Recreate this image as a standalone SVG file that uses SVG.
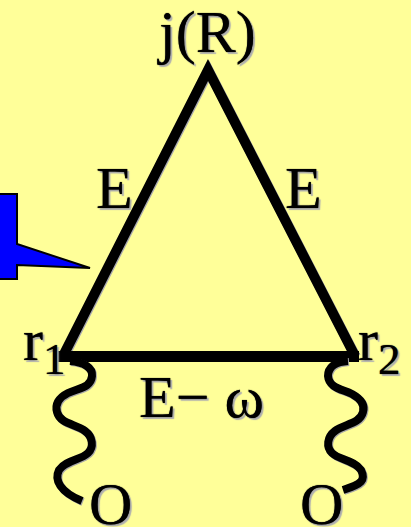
<svg xmlns="http://www.w3.org/2000/svg" width="411" height="527" viewBox="0 0 411 527">
<style>
text{font-family:"Liberation Serif","Times New Roman",serif;font-size:60px;fill:#000;text-shadow:0 0 1px #000,2px 2px 1px #b0b0b0}
.sub{font-size:45px}
.edge{fill:none;stroke:#000;stroke-width:10;stroke-linejoin:miter;stroke-miterlimit:8;filter:drop-shadow(1px 1px 0.5px #a8a8b0)}
.wave{fill:none;stroke:#000;stroke-width:8;filter:drop-shadow(1.5px 1.5px 0.5px #a8a8a8)}
</style>
<rect width="411" height="527" fill="#ffff99"/>
<g id="connectors">
<path class="edge" d="M63 356L208 70L355 356"/>
<path d="M58 351H359V362H58Z" fill="#000"/>
<path class="wave" d="M70 361C84 362 93 368 92 376C91 388 78 388 68 393C58 398 55 405 57 412C60 424 76 424 85 431C93 437 94 447 88 453C81 460 66 460 59 470C54 480 60 492 82 501"/>
<path class="wave" d="M348 361C334 362 328 368 328 376C329 388 342 389 352 394C361 399 365 405 363 412C360 424 344 424 335 431C327 437 326 447 332 453C339 460 354 460 361 470C366 480 362 484 343 490"/>
</g>
<g id="callout"><path d="M-2 194H17V244L90 268L17 265V279H-2Z" fill="#0000ff" stroke="#000" stroke-width="2"/></g>
<g id="node-j"><text x="159" y="52">j(R)</text></g>
<g id="label-e-left"><text x="96" y="208">E</text></g>
<g id="label-e-right"><text x="285" y="208">E</text></g>
<g id="node-r1"><text x="23" y="360">r</text><text class="sub" x="43" y="374">1</text></g>
<g id="node-r2"><text x="358" y="360">r</text><text class="sub" x="378" y="374">2</text></g>
<g id="label-e-omega"><text x="139" y="417">E− ω</text></g>
<g id="node-o1"><text x="89" y="524">O</text></g>
<g id="node-o2"><text x="300" y="524">O</text></g>
</svg>
